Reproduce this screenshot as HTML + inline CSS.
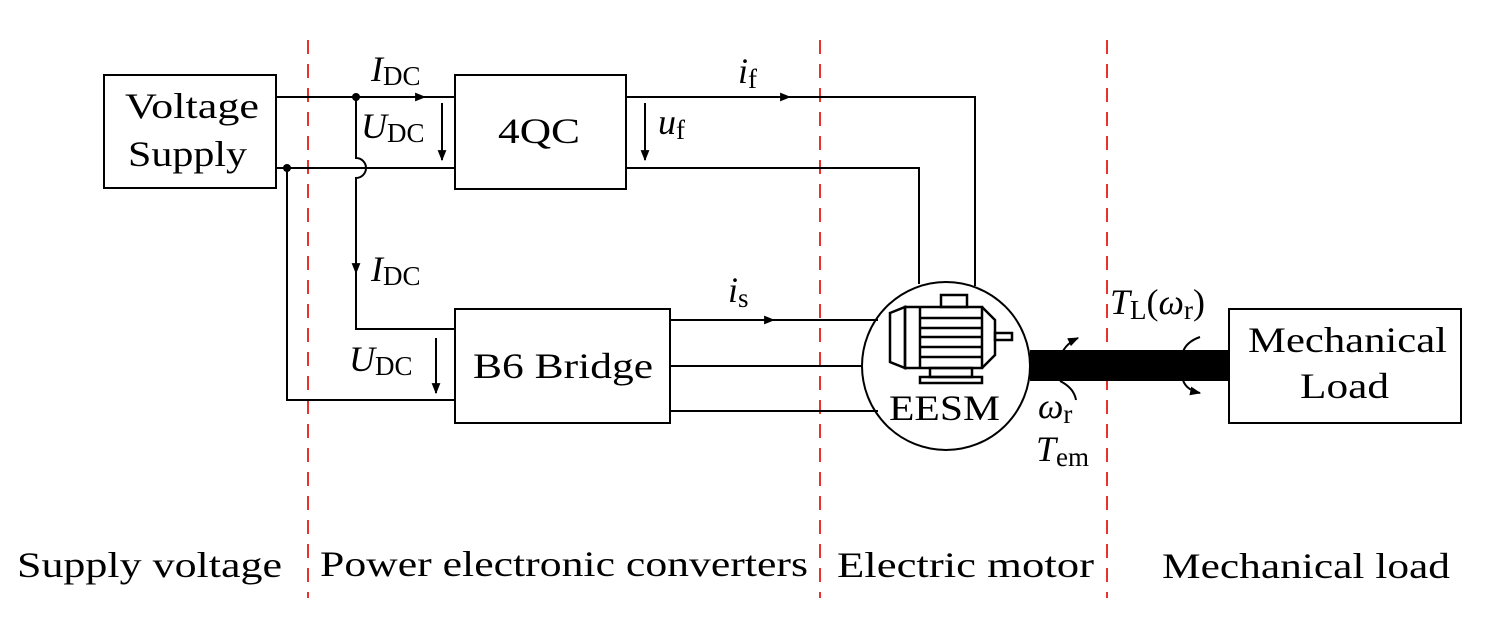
<!DOCTYPE html>
<html><head><meta charset="utf-8"><style>
html,body{margin:0;padding:0;background:#fff;}
svg{display:block;}
text{font-family:"Liberation Serif",serif;fill:#000;}
.it{font-style:italic;}
</style></head><body>
<svg width="1486" height="628" viewBox="0 0 1486 628" xmlns="http://www.w3.org/2000/svg">
<defs>
<marker id="ar" viewBox="0 0 10 10" refX="9" refY="5" markerWidth="11" markerHeight="11" markerUnits="userSpaceOnUse" orient="auto">
<path d="M0,1 L10,5 L0,9 Z" fill="#000"/></marker>
</defs>
<g stroke="#e8322a" stroke-width="2" stroke-dasharray="14,10">
<line x1="308" y1="40" x2="308" y2="598"/>
<line x1="820" y1="40" x2="820" y2="598"/>
<line x1="1107" y1="40" x2="1107" y2="598"/>
</g>
<g fill="none" stroke="#000" stroke-width="2">
<rect x="104" y="75" width="172" height="113"/>
<rect x="455" y="75" width="171" height="114"/>
<rect x="455" y="309" width="215" height="114"/>
<rect x="1229" y="309" width="232" height="114"/>
<line x1="276" y1="97" x2="455" y2="97"/>
<line x1="276" y1="168" x2="455" y2="168"/>
<path d="M356,97 V158 A10,10 0 0 1 356,178 V329 H455"/>
<path d="M287,168 V400 H455"/>
<path d="M626,97 H975 V286"/>
<path d="M626,168 H919 V284"/>
<line x1="670" y1="320" x2="878" y2="320"/>
<line x1="670" y1="366" x2="862" y2="366"/>
<line x1="670" y1="411" x2="878" y2="411"/>
<circle cx="946" cy="366" r="84"/>
<g stroke-width="2.5">
<path d="M890,313 L905,307 L905,368 L890,362 Z"/>
<rect x="905" y="307" width="77" height="61"/>
<line x1="920" y1="307" x2="920" y2="368"/>
<line x1="920" y1="318" x2="982" y2="318"/>
<line x1="920" y1="328" x2="982" y2="328"/>
<line x1="920" y1="337" x2="982" y2="337"/>
<line x1="920" y1="347" x2="982" y2="347"/>
<line x1="920" y1="357" x2="982" y2="357"/>
<path d="M982,307 L995,320 L995,355 L982,368"/>
<rect x="995" y="333" width="17" height="7"/>
<rect x="941" y="295" width="26" height="12"/>
<rect x="930" y="368" width="42" height="9"/>
<rect x="920" y="377" width="62" height="6"/>
</g>
<path d="M1060,359 Q1063,345 1078,338" marker-end="url(#ar)"/>
<path d="M1060,381 Q1074,388 1076,400"/>
<path d="M1200,337 Q1186,342 1183,352"/>
<path d="M1183,380 Q1186,390 1200,393" marker-end="url(#ar)"/>
</g>
<rect x="1030" y="350" width="199" height="31" fill="#000"/>
<g stroke="#000" stroke-width="2" fill="none">
<line x1="356" y1="97" x2="425" y2="97" marker-end="url(#ar)"/>
<line x1="626" y1="97" x2="790" y2="97" marker-end="url(#ar)"/>
<line x1="670" y1="320" x2="774" y2="320" marker-end="url(#ar)"/>
<line x1="356" y1="240" x2="356" y2="273" marker-end="url(#ar)"/>
<line x1="442" y1="103" x2="442" y2="160" marker-end="url(#ar)"/>
<line x1="645" y1="103" x2="645" y2="160" marker-end="url(#ar)"/>
<line x1="436" y1="338" x2="436" y2="393" marker-end="url(#ar)"/>
</g>
<circle cx="356" cy="97" r="4" fill="#000"/>
<circle cx="287" cy="168" r="4" fill="#000"/>
<g font-size="36" lengthAdjust="spacingAndGlyphs">
<text x="125" y="118" textLength="134" lengthAdjust="spacingAndGlyphs">Voltage</text>
<text x="128" y="166" textLength="119" lengthAdjust="spacingAndGlyphs">Supply</text>
<text x="498" y="143" textLength="82" lengthAdjust="spacingAndGlyphs">4QC</text>
<text x="473" y="378" textLength="180" lengthAdjust="spacingAndGlyphs">B6 Bridge</text>
<text x="1248" y="352" textLength="199" lengthAdjust="spacingAndGlyphs">Mechanical</text>
<text x="1300" y="398" textLength="89" lengthAdjust="spacingAndGlyphs">Load</text>
<text x="889" y="420" textLength="111" lengthAdjust="spacingAndGlyphs">EESM</text>
<text x="17" y="577" textLength="265" lengthAdjust="spacingAndGlyphs">Supply voltage</text>
<text x="320" y="576" textLength="488" lengthAdjust="spacingAndGlyphs">Power electronic converters</text>
<text x="837" y="577" textLength="257" lengthAdjust="spacingAndGlyphs">Electric motor</text>
<text x="1162" y="578" textLength="288" lengthAdjust="spacingAndGlyphs">Mechanical load</text>
</g>
<g font-size="36">
<text x="371" y="81"><tspan class="it">I</tspan><tspan font-size="27" dy="4">DC</tspan></text>
<text x="361" y="138"><tspan class="it">U</tspan><tspan font-size="27" dy="4">DC</tspan></text>
<text x="371" y="281"><tspan class="it">I</tspan><tspan font-size="27" dy="4">DC</tspan></text>
<text x="349" y="371"><tspan class="it">U</tspan><tspan font-size="27" dy="4">DC</tspan></text>
<text x="738" y="83"><tspan class="it">i</tspan><tspan font-size="27" dy="5">f</tspan></text>
<text x="658" y="134"><tspan class="it">u</tspan><tspan font-size="27" dy="5">f</tspan></text>
<text x="728" y="302"><tspan class="it">i</tspan><tspan font-size="27" dy="5">s</tspan></text>
<text x="1110" y="314"><tspan class="it">T</tspan><tspan font-size="27" dy="5">L</tspan><tspan dy="-5">(</tspan><tspan class="it">ω</tspan><tspan font-size="27" dy="5">r</tspan><tspan dy="-5">)</tspan></text>
<text x="1038" y="418"><tspan class="it">ω</tspan><tspan font-size="27" dy="5">r</tspan></text>
<text x="1036" y="461"><tspan class="it">T</tspan><tspan font-size="27" dy="5">em</tspan></text>
</g>
</svg>
</body></html>
